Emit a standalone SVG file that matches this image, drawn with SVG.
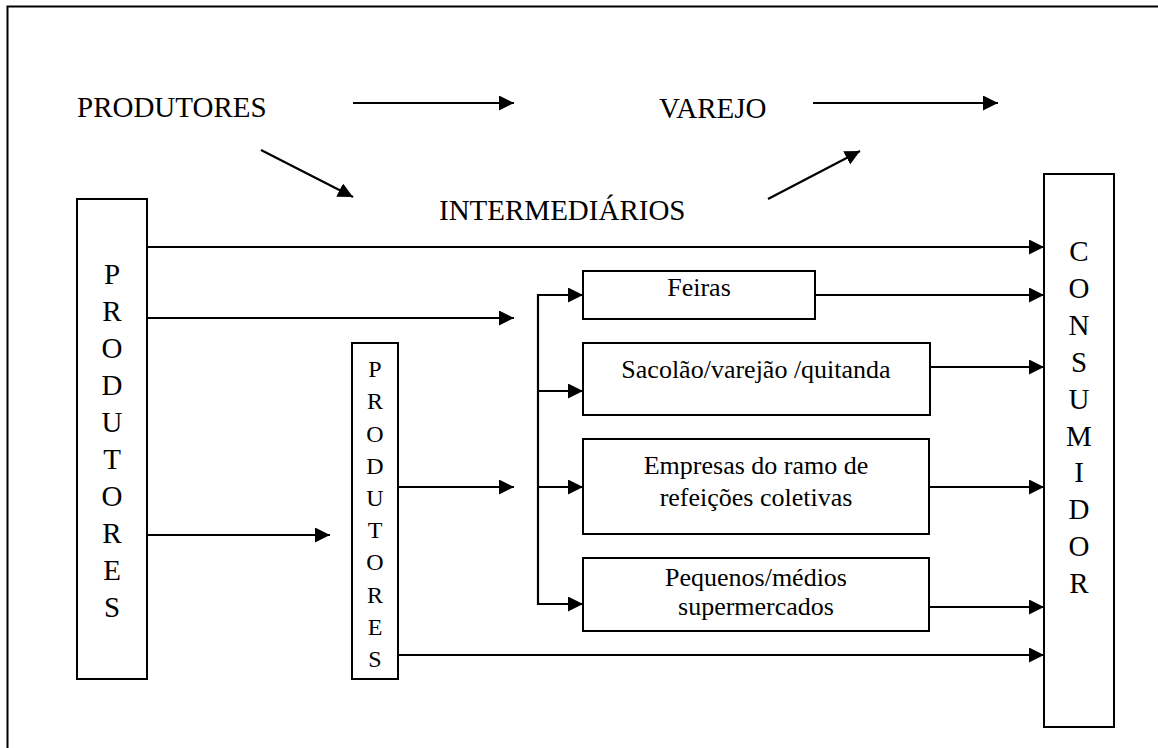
<svg xmlns="http://www.w3.org/2000/svg" width="1158" height="748" viewBox="0 0 1158 748" font-family="'Liberation Serif', 'Times New Roman', Times, 'DejaVu Serif', serif">
<style>
.box{fill:#fff;stroke:#000;stroke-width:2}
.ln{fill:none;stroke:#000;stroke-width:2.2;marker-end:url(#ah)}
.pl{fill:none;stroke:#000;stroke-width:2.2}
.t{font-size:29px}
.b{font-size:26px;text-anchor:middle}
.v{font-size:29px;text-anchor:middle}
.vs{font-size:24px;text-anchor:middle}
</style>
<defs>
<marker id="ah" markerUnits="userSpaceOnUse" markerWidth="16" markerHeight="16" refX="15" refY="7.5" orient="auto">
<path d="M0,0 L15,7.5 L0,15 z" fill="#000"/>
</marker>
</defs>
<rect x="7.5" y="6.5" width="1200" height="800" fill="#fff" stroke="#000" stroke-width="2"/>
<g id="top-flow" font-family="'Liberation Serif', 'Times New Roman', serif">
<text class="t" x="77" y="117">PRODUTORES</text>
<text class="t" x="659" y="118">VAREJO</text>
<text class="t" x="439" y="220">INTERMEDIÁRIOS</text>
</g>
<g id="connectors">
<line class="ln" x1="353" y1="103" x2="514" y2="103"/>
<line class="ln" x1="813" y1="103" x2="998" y2="103"/>
<line class="ln" x1="261" y1="150" x2="353" y2="197"/>
<line class="ln" x1="768" y1="199" x2="860" y2="151"/>
<line class="ln" x1="147" y1="247" x2="1044" y2="247"/>
<line class="ln" x1="147" y1="318" x2="514" y2="318"/>
<line class="ln" x1="147" y1="535" x2="330" y2="535"/>
<line class="ln" x1="399" y1="487" x2="514" y2="487"/>
<line class="ln" x1="399" y1="655" x2="1044" y2="655"/>
<line class="pl" x1="538" y1="294" x2="538" y2="605"/>
<line class="ln" x1="537" y1="295" x2="583" y2="295"/>
<line class="ln" x1="537" y1="391" x2="583" y2="391"/>
<line class="ln" x1="537" y1="487" x2="583" y2="487"/>
<line class="ln" x1="537" y1="604" x2="583" y2="604"/>
<line class="ln" x1="815" y1="295" x2="1044" y2="295"/>
<line class="ln" x1="930" y1="367" x2="1044" y2="367"/>
<line class="ln" x1="929" y1="487" x2="1044" y2="487"/>
<line class="ln" x1="929" y1="607" x2="1044" y2="607"/>
</g>
<g id="produtores-big" font-family="'Liberation Serif', 'Times New Roman', serif">
<rect class="box" x="77" y="199" width="70" height="480"/>
<text class="v" x="112"><tspan x="112" y="284">P</tspan><tspan x="112" y="321">R</tspan><tspan x="112" y="358">O</tspan><tspan x="112" y="395">D</tspan><tspan x="112" y="432">U</tspan><tspan x="112" y="469">T</tspan><tspan x="112" y="506">O</tspan><tspan x="112" y="543">R</tspan><tspan x="112" y="580">E</tspan><tspan x="112" y="617">S</tspan></text>
</g>
<g id="produtores-small" font-family="'Liberation Serif', 'Times New Roman', serif">
<rect class="box" x="352" y="343" width="46" height="336"/>
<text class="vs" x="375"><tspan x="375" y="377">P</tspan><tspan x="375" y="409">R</tspan><tspan x="375" y="442">O</tspan><tspan x="375" y="474">D</tspan><tspan x="375" y="506">U</tspan><tspan x="375" y="538">T</tspan><tspan x="375" y="570">O</tspan><tspan x="375" y="603">R</tspan><tspan x="375" y="635">E</tspan><tspan x="375" y="667">S</tspan></text>
</g>
<g id="feiras" font-family="'Liberation Serif', 'Times New Roman', serif">
<rect class="box" x="583" y="271" width="232" height="48"/>
<text class="b" x="699" y="296">Feiras</text>
</g>
<g id="sacolao" font-family="'Liberation Serif', 'Times New Roman', serif">
<rect class="box" x="583" y="343" width="347" height="72"/>
<text class="b" x="756" y="378">Sacolão/varejão /quitanda</text>
</g>
<g id="empresas" font-family="'Liberation Serif', 'Times New Roman', serif">
<rect class="box" x="583" y="439" width="346" height="95"/>
<text class="b" x="756" y="474">Empresas do ramo de</text>
<text class="b" x="756" y="506">refeições coletivas</text>
</g>
<g id="pequenos" font-family="'Liberation Serif', 'Times New Roman', serif">
<rect class="box" x="583" y="558" width="346" height="73"/>
<text class="b" x="756" y="586">Pequenos/médios</text>
<text class="b" x="756" y="615">supermercados</text>
</g>
<g id="consumidor" font-family="'Liberation Serif', 'Times New Roman', serif">
<rect class="box" x="1044" y="174" width="70" height="553"/>
<text class="v" x="1079"><tspan x="1079" y="261">C</tspan><tspan x="1079" y="298">O</tspan><tspan x="1079" y="335">N</tspan><tspan x="1079" y="372">S</tspan><tspan x="1079" y="409">U</tspan><tspan x="1079" y="446">M</tspan><tspan x="1079" y="482">I</tspan><tspan x="1079" y="519">D</tspan><tspan x="1079" y="556">O</tspan><tspan x="1079" y="593">R</tspan></text>
</g>
</svg>
